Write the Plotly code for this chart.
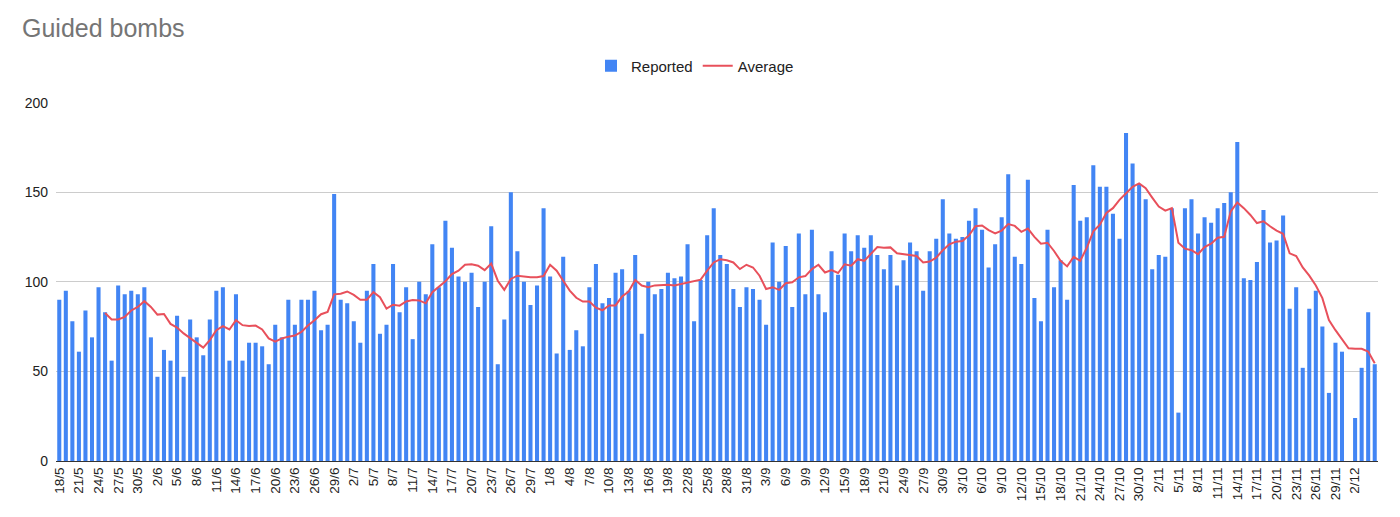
import datetime
import plotly.graph_objects as go

# ---- data -------------------------------------------------------------
start_day = datetime.date(2024, 5, 18)
n_days = 202
categories = [f"{(start_day + datetime.timedelta(days=i)).day}/{(start_day + datetime.timedelta(days=i)).month}"
              for i in range(n_days)]
tick_labels = categories[:199:3]   # 18/5 ... 2/12

reported = (
    [90, 95, 78, 61, 84, 69, 97, 83, 56, 98, 93, 95, 93, 97, 69, 47, 62, 56]
    + [81, 47, 79, 69, 59, 79, 95, 97, 56, 93, 56, 66, 66, 64, 54, 76, 69, 90]
    + [76, 90, 90, 95, 73, 76, 149, 90, 88, 78, 66, 95, 110, 71, 76, 110, 83, 97]
    + [68, 100, 93, 121, 97, 134, 119, 103, 100, 105, 86, 100, 131, 54, 79, 150, 117, 100, 87]
    + [98, 141, 103, 60, 114, 62, 73, 64, 97, 110, 88, 91, 105, 107, 95, 115, 71, 100]
    + [93, 96, 105, 102, 103, 121, 78, 101, 126, 141, 115, 110, 96, 86, 97, 96, 90, 76]
    + [122, 100, 120, 86, 127, 93, 129, 93, 83, 117, 104, 127, 117, 126, 119, 126, 115, 107]
    + [115, 98, 112, 122, 117, 95, 117, 124, 146, 127, 124, 125, 134, 141, 129, 108, 121, 136, 160]
    + [114, 110, 157, 91, 78, 129, 97, 112, 90, 154, 134, 136, 165, 153, 153, 138, 124, 183]
    + [166, 154, 146, 107, 115, 114, 141, 27, 141, 146, 127, 136, 133, 141, 144, 150, 178, 102]
    + [101, 111, 140, 122, 123, 137, 85, 97, 52, 85, 95, 75, 38, 66, 61, None, 24, 52, 83, 54]
)

average = (
    [None] * 7
    + [82.6, 79, 79, 80.4, 84, 86, 89.2, 86, 81.7, 82, 76.5]
    + [74.5, 71.2, 68.4, 65.7, 63.3, 67.5, 73, 75.3, 73.4, 78.6, 75.8, 75.3, 75.6, 73.4, 68.4, 66.6, 68.4, 69.4]
    + [70, 72, 75.6, 78.6, 81.9, 83.2, 93, 93.3, 94.6, 92.7, 90, 90, 94.2, 91.4, 85, 87.2, 86.7, 89]
    + [89.8, 89.6, 88, 94.2, 97, 100.3, 104.3, 106.2, 109.5, 109.8, 109, 106.5, 110.2, 100.6, 95.5, 101.6, 103.4, 102.9]
    + [102.5, 102.5, 103.2, 109.5, 106.2, 100.6, 95.1, 91.1, 89, 89, 85.6, 84.1, 86.8, 86.8, 91.8, 94.6, 101, 97.9, 97]
    + [98, 98.4, 98.4, 97.9, 98.8, 99.7, 100.6, 101.2, 106.2, 110.8, 112.6, 112, 110.8, 107.1, 109.5, 108, 103.4, 96]
    + [97, 95.5, 99.2, 99.7, 102.5, 103.2, 107.1, 109.5, 105.2, 106.5, 104.9, 109.8, 109, 112.6, 111.7, 115.4, 119.4, 119]
    + [119.2, 115.9, 115.4, 115, 114.4, 110.8, 111.3, 113.5, 117.6, 120.9, 122.4, 122.7, 125.9, 131, 131.4, 128.8, 127, 128.6]
    + [132.2, 131.2, 127.9, 129.7, 125.1, 121.3, 121.8, 117.2, 111.7, 108.6, 113.9, 111.7, 119, 128.2, 131.9, 138.4, 141.1, 145.7, 149.4]
    + [153, 154.9, 152.2, 147, 142, 139.7, 141.1, 121.8, 118.5, 117.6, 115.4, 119.4, 121.3, 124.6, 125.1, 139.3, 144.3, 141.1]
    + [137.3, 132.8, 133.8, 131, 128.6, 126.8, 115.9, 114.4, 108, 103.4, 97.9, 90.9, 78.6, 73, 67.9, 62.9, 62.6, 62.6, 61.1, 54.6]
)

y_ticks = [0, 50, 100, 150, 200]

# ---- figure -----------------------------------------------------------
FONT = "Arial, 'Liberation Sans', sans-serif"
W, H = 1392, 509   # page body has an 8px margin

fig = go.Figure()
fig.add_trace(go.Bar(x=categories, y=reported, name="Reported",
                     marker=dict(color="#4285F4", line=dict(width=0))))
fig.add_trace(go.Scatter(x=categories, y=average, name="Average", mode="lines",
                         line=dict(color="#E8505B", width=2), connectgaps=False))

fig.update_layout(
    width=W, height=H,
    margin=dict(l=48, r=22, t=93, b=56),
    paper_bgcolor="white", plot_bgcolor="white",
    font=dict(family=FONT, size=13, color="#222222"),
    title=dict(text="Guided bombs", x=14 / W, xref="container", xanchor="left",
               y=1 - 20 / H, yref="container", yanchor="middle",
               font=dict(family=FONT, size=25, color="#757575")),
    legend=dict(orientation="h", xref="container", x=687 / W, xanchor="center",
                yref="container", y=1 - 58 / H, yanchor="middle",
                font=dict(family=FONT, size=15, color="#222222"),
                itemwidth=30, traceorder="normal"),
    bargap=0.38,
    showlegend=True,
)
fig.update_xaxes(type="category", tickmode="array", tickvals=tick_labels, ticktext=tick_labels,
                 tickangle=-90, tickfont=dict(size=13.5, color="#222222"),
                 showgrid=False, showline=True, linecolor="#333333", linewidth=1,
                 ticks="", range=[-0.5, n_days - 0.5])
fig.update_yaxes(range=[0, 200], tickvals=y_ticks, showgrid=True, gridcolor="#cccccc",
                 gridwidth=1, zeroline=False, ticks="", ticklabelstandoff=7,
                 tickfont=dict(size=14, color="#222222"), showline=False)

fig.write_html("out.html")
